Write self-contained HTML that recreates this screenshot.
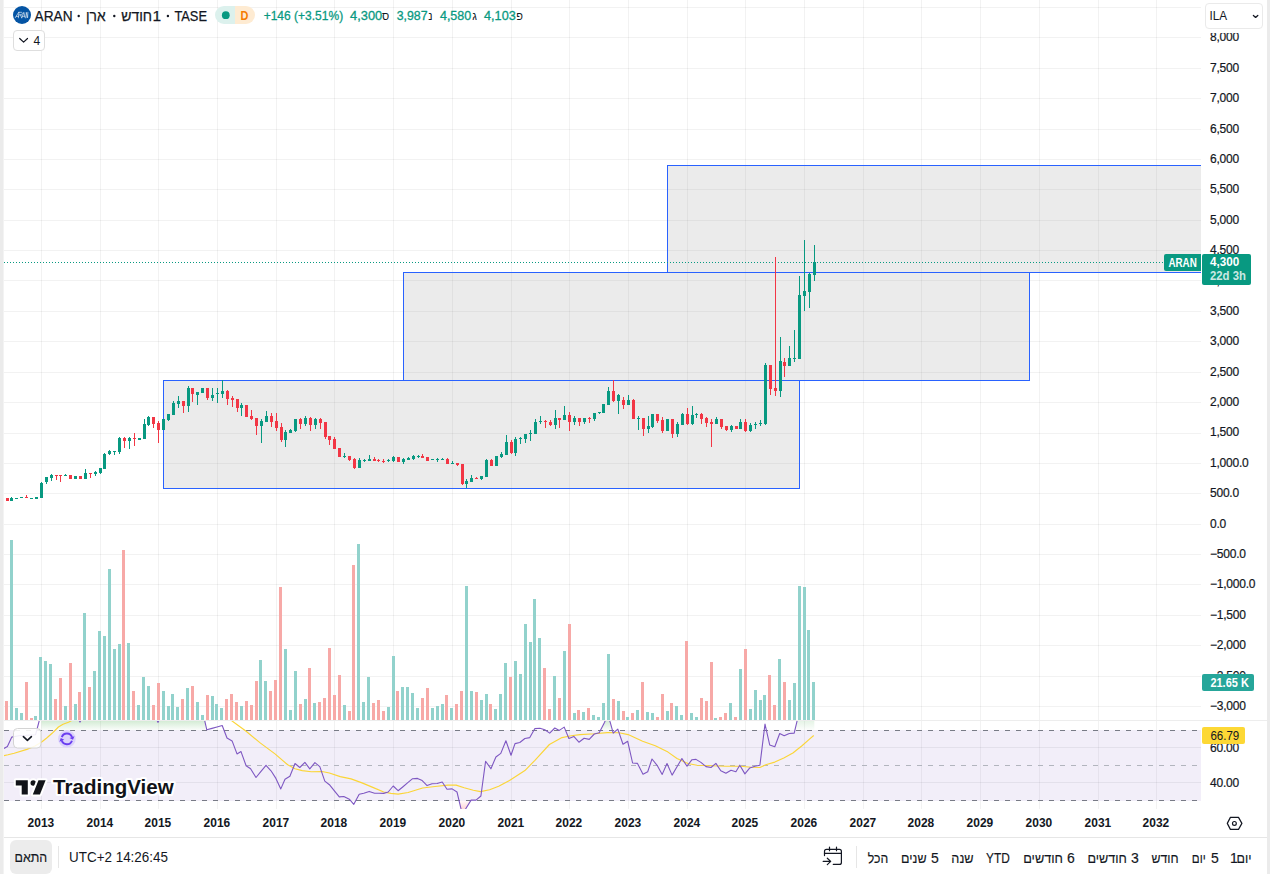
<!DOCTYPE html><html><head><meta charset="utf-8"><title>ARAN chart</title><style>
html,body{margin:0;padding:0;background:#fff}
body{width:1270px;height:874px;position:relative;overflow:hidden;font-family:"Liberation Sans",sans-serif;color:#131722}
svg{position:absolute;left:0;top:0;display:block}
text{font-family:"Liberation Sans",sans-serif}
.ax{font-size:12px;fill:#131722;letter-spacing:-0.22px;stroke:#131722;stroke-width:0.2px}
.yr{font-size:12px;font-weight:bold;fill:#131722;text-anchor:middle}
.tb{font-size:14px;fill:#131722;text-anchor:middle;stroke:#131722;stroke-width:0.15px}
.t16{font-size:15.5px;fill:#131722;stroke:#131722;stroke-width:0.25px}
.h13{font-size:14.25px;fill:#131722;stroke:#131722;stroke-width:0.25px}
.h11{font-size:11px;fill:#131722}
.v13{font-size:13px;fill:#089981;stroke:#089981;stroke-width:0.3px}
.k13{font-size:13px;fill:#131722}
</style></head><body>
<svg width="1270" height="874" viewBox="0 0 1270 874">
<defs>
<clipPath id="cpRsi"><rect x="4" y="721" width="1197" height="88"/></clipPath>
<clipPath id="cpPlot"><rect x="4" y="0" width="1197" height="721"/></clipPath>
<linearGradient id="gOB" x1="0" y1="0" x2="0" y2="1"><stop offset="0" stop-color="#4caf50" stop-opacity="0.24"/><stop offset="1" stop-color="#4caf50" stop-opacity="0.02"/></linearGradient>
<linearGradient id="gOS" x1="0" y1="0" x2="0" y2="1"><stop offset="0" stop-color="#ff5252" stop-opacity="0.02"/><stop offset="1" stop-color="#ff5252" stop-opacity="0.24"/></linearGradient>
</defs>
<rect x="0" y="0" width="1270" height="874" fill="#fff"/>
<g shape-rendering="crispEdges">
<rect x="41" y="0" width="1" height="809" fill="#000" fill-opacity="0.052"/>
<rect x="100" y="0" width="1" height="809" fill="#000" fill-opacity="0.052"/>
<rect x="158" y="0" width="1" height="809" fill="#000" fill-opacity="0.052"/>
<rect x="217" y="0" width="1" height="809" fill="#000" fill-opacity="0.052"/>
<rect x="276" y="0" width="1" height="809" fill="#000" fill-opacity="0.052"/>
<rect x="334" y="0" width="1" height="809" fill="#000" fill-opacity="0.052"/>
<rect x="393" y="0" width="1" height="809" fill="#000" fill-opacity="0.052"/>
<rect x="452" y="0" width="1" height="809" fill="#000" fill-opacity="0.052"/>
<rect x="511" y="0" width="1" height="809" fill="#000" fill-opacity="0.052"/>
<rect x="569" y="0" width="1" height="809" fill="#000" fill-opacity="0.052"/>
<rect x="628" y="0" width="1" height="809" fill="#000" fill-opacity="0.052"/>
<rect x="687" y="0" width="1" height="809" fill="#000" fill-opacity="0.052"/>
<rect x="745" y="0" width="1" height="809" fill="#000" fill-opacity="0.052"/>
<rect x="804" y="0" width="1" height="809" fill="#000" fill-opacity="0.052"/>
<rect x="863" y="0" width="1" height="809" fill="#000" fill-opacity="0.052"/>
<rect x="921" y="0" width="1" height="809" fill="#000" fill-opacity="0.052"/>
<rect x="980" y="0" width="1" height="809" fill="#000" fill-opacity="0.052"/>
<rect x="1039" y="0" width="1" height="809" fill="#000" fill-opacity="0.052"/>
<rect x="1098" y="0" width="1" height="809" fill="#000" fill-opacity="0.052"/>
<rect x="1156" y="0" width="1" height="809" fill="#000" fill-opacity="0.052"/>
<rect x="4" y="706" width="1197" height="1" fill="#000" fill-opacity="0.052"/>
<rect x="4" y="676" width="1197" height="1" fill="#000" fill-opacity="0.052"/>
<rect x="4" y="645" width="1197" height="1" fill="#000" fill-opacity="0.052"/>
<rect x="4" y="615" width="1197" height="1" fill="#000" fill-opacity="0.052"/>
<rect x="4" y="584" width="1197" height="1" fill="#000" fill-opacity="0.052"/>
<rect x="4" y="554" width="1197" height="1" fill="#000" fill-opacity="0.052"/>
<rect x="4" y="524" width="1197" height="1" fill="#000" fill-opacity="0.052"/>
<rect x="4" y="493" width="1197" height="1" fill="#000" fill-opacity="0.052"/>
<rect x="4" y="463" width="1197" height="1" fill="#000" fill-opacity="0.052"/>
<rect x="4" y="433" width="1197" height="1" fill="#000" fill-opacity="0.052"/>
<rect x="4" y="402" width="1197" height="1" fill="#000" fill-opacity="0.052"/>
<rect x="4" y="372" width="1197" height="1" fill="#000" fill-opacity="0.052"/>
<rect x="4" y="341" width="1197" height="1" fill="#000" fill-opacity="0.052"/>
<rect x="4" y="311" width="1197" height="1" fill="#000" fill-opacity="0.052"/>
<rect x="4" y="280" width="1197" height="1" fill="#000" fill-opacity="0.052"/>
<rect x="4" y="250" width="1197" height="1" fill="#000" fill-opacity="0.052"/>
<rect x="4" y="220" width="1197" height="1" fill="#000" fill-opacity="0.052"/>
<rect x="4" y="189" width="1197" height="1" fill="#000" fill-opacity="0.052"/>
<rect x="4" y="159" width="1197" height="1" fill="#000" fill-opacity="0.052"/>
<rect x="4" y="129" width="1197" height="1" fill="#000" fill-opacity="0.052"/>
<rect x="4" y="98" width="1197" height="1" fill="#000" fill-opacity="0.052"/>
<rect x="4" y="68" width="1197" height="1" fill="#000" fill-opacity="0.052"/>
<rect x="4" y="37" width="1197" height="1" fill="#000" fill-opacity="0.052"/>
<rect x="4" y="7" width="1197" height="1" fill="#000" fill-opacity="0.052"/>
<rect x="4" y="730" width="1197" height="71" fill="#7e57c2" fill-opacity="0.1"/>
<rect x="4" y="747" width="1197" height="1" fill="#2a2e39" fill-opacity="0.07"/>
<rect x="4" y="782" width="1197" height="1" fill="#2a2e39" fill-opacity="0.07"/>
<rect x="4" y="720" width="1263" height="1" fill="#ededed"/>
</g>
<g clip-path="url(#cpRsi)">
<polygon fill="url(#gOB)" points="41.4,730.4 41.4,721 205.3,721 205.3,730.4"/>
<polygon fill="url(#gOB)" points="600.4,730.4 604.6,722.2 605,721 609.8,721 610.2,722.2 612.4,730.4"/>
<polygon fill="url(#gOB)" fill-opacity="0.6" points="795.2,730.4 797.4,721 814.3,721 814.3,730.4"/>
<polygon fill="url(#gOS)" points="459,800.5 461,808.8 461.2,809 465.6,809 465.7,808.8 470.9,800.5"/>
</g>
<g shape-rendering="crispEdges" fill="none">
<line x1="4" y1="730.5" x2="1201" y2="730.5" stroke="#787b86" stroke-dasharray="5 6"/>
<line x1="4" y1="765.5" x2="1201" y2="765.5" stroke="#b2b5be" stroke-dasharray="5 6"/>
<line x1="4" y1="800.5" x2="1201" y2="800.5" stroke="#787b86" stroke-dasharray="5 6"/>
</g>
<g clip-path="url(#cpPlot)" shape-rendering="crispEdges">
<rect x="163.5" y="380.5" width="636" height="108" fill="#808080" fill-opacity="0.16" stroke="#2962ff" stroke-width="1"/>
<rect x="403.5" y="272.5" width="626" height="108" fill="#808080" fill-opacity="0.16" stroke="#2962ff" stroke-width="1"/>
<rect x="667.5" y="165.5" width="560" height="107" fill="#808080" fill-opacity="0.16" stroke="#2962ff" stroke-width="1"/>
</g>
<g shape-rendering="crispEdges">
<rect x="5" y="701" width="3" height="19" fill="#f7a9a7"/>
<rect x="10" y="540" width="3" height="180" fill="#92d2cc"/>
<rect x="15" y="708" width="3" height="12" fill="#92d2cc"/>
<rect x="20" y="713" width="3" height="7" fill="#92d2cc"/>
<rect x="25" y="682" width="3" height="38" fill="#f7a9a7"/>
<rect x="30" y="718" width="3" height="2" fill="#f7a9a7"/>
<rect x="34" y="716" width="3" height="4" fill="#92d2cc"/>
<rect x="39" y="657" width="3" height="63" fill="#92d2cc"/>
<rect x="44" y="661" width="3" height="59" fill="#92d2cc"/>
<rect x="49" y="664" width="3" height="56" fill="#92d2cc"/>
<rect x="54" y="699" width="3" height="21" fill="#f7a9a7"/>
<rect x="59" y="678" width="3" height="42" fill="#f7a9a7"/>
<rect x="64" y="706" width="3" height="14" fill="#92d2cc"/>
<rect x="69" y="663" width="3" height="57" fill="#f7a9a7"/>
<rect x="74" y="704" width="3" height="16" fill="#92d2cc"/>
<rect x="78" y="692" width="3" height="28" fill="#f7a9a7"/>
<rect x="83" y="613" width="3" height="107" fill="#92d2cc"/>
<rect x="88" y="687" width="3" height="33" fill="#f7a9a7"/>
<rect x="93" y="671" width="3" height="49" fill="#92d2cc"/>
<rect x="98" y="631" width="3" height="89" fill="#92d2cc"/>
<rect x="103" y="636" width="3" height="84" fill="#92d2cc"/>
<rect x="108" y="569" width="3" height="151" fill="#92d2cc"/>
<rect x="113" y="649" width="3" height="71" fill="#92d2cc"/>
<rect x="118" y="644" width="3" height="76" fill="#92d2cc"/>
<rect x="122" y="550" width="3" height="170" fill="#f7a9a7"/>
<rect x="127" y="643" width="3" height="77" fill="#92d2cc"/>
<rect x="132" y="691" width="3" height="29" fill="#f7a9a7"/>
<rect x="137" y="705" width="3" height="15" fill="#92d2cc"/>
<rect x="142" y="677" width="3" height="43" fill="#92d2cc"/>
<rect x="147" y="686" width="3" height="34" fill="#92d2cc"/>
<rect x="152" y="705" width="3" height="15" fill="#f7a9a7"/>
<rect x="157" y="683" width="3" height="37" fill="#f7a9a7"/>
<rect x="162" y="691" width="3" height="29" fill="#92d2cc"/>
<rect x="167" y="706" width="3" height="14" fill="#92d2cc"/>
<rect x="171" y="694" width="3" height="26" fill="#92d2cc"/>
<rect x="176" y="707" width="3" height="13" fill="#92d2cc"/>
<rect x="181" y="699" width="3" height="21" fill="#f7a9a7"/>
<rect x="186" y="688" width="3" height="32" fill="#92d2cc"/>
<rect x="191" y="686" width="3" height="34" fill="#f7a9a7"/>
<rect x="196" y="702" width="3" height="18" fill="#92d2cc"/>
<rect x="201" y="715" width="3" height="5" fill="#92d2cc"/>
<rect x="206" y="695" width="3" height="25" fill="#f7a9a7"/>
<rect x="211" y="696" width="3" height="24" fill="#92d2cc"/>
<rect x="215" y="704" width="3" height="16" fill="#92d2cc"/>
<rect x="220" y="708" width="3" height="12" fill="#92d2cc"/>
<rect x="225" y="699" width="3" height="21" fill="#f7a9a7"/>
<rect x="230" y="694" width="3" height="26" fill="#f7a9a7"/>
<rect x="235" y="702" width="3" height="18" fill="#f7a9a7"/>
<rect x="240" y="706" width="3" height="14" fill="#92d2cc"/>
<rect x="245" y="701" width="3" height="19" fill="#f7a9a7"/>
<rect x="250" y="705" width="3" height="15" fill="#f7a9a7"/>
<rect x="255" y="681" width="3" height="39" fill="#f7a9a7"/>
<rect x="259" y="660" width="3" height="60" fill="#92d2cc"/>
<rect x="264" y="681" width="3" height="39" fill="#92d2cc"/>
<rect x="269" y="691" width="3" height="29" fill="#f7a9a7"/>
<rect x="274" y="680" width="3" height="40" fill="#f7a9a7"/>
<rect x="279" y="587" width="3" height="133" fill="#f7a9a7"/>
<rect x="284" y="649" width="3" height="71" fill="#92d2cc"/>
<rect x="289" y="710" width="3" height="10" fill="#92d2cc"/>
<rect x="294" y="671" width="3" height="49" fill="#92d2cc"/>
<rect x="299" y="704" width="3" height="16" fill="#f7a9a7"/>
<rect x="304" y="699" width="3" height="21" fill="#92d2cc"/>
<rect x="308" y="668" width="3" height="52" fill="#f7a9a7"/>
<rect x="313" y="703" width="3" height="17" fill="#92d2cc"/>
<rect x="318" y="702" width="3" height="18" fill="#f7a9a7"/>
<rect x="323" y="698" width="3" height="22" fill="#f7a9a7"/>
<rect x="328" y="648" width="3" height="72" fill="#f7a9a7"/>
<rect x="333" y="695" width="3" height="25" fill="#f7a9a7"/>
<rect x="338" y="675" width="3" height="45" fill="#f7a9a7"/>
<rect x="343" y="705" width="3" height="15" fill="#92d2cc"/>
<rect x="348" y="711" width="3" height="9" fill="#f7a9a7"/>
<rect x="352" y="565" width="3" height="155" fill="#f7a9a7"/>
<rect x="357" y="544" width="3" height="176" fill="#92d2cc"/>
<rect x="362" y="702" width="3" height="18" fill="#92d2cc"/>
<rect x="367" y="677" width="3" height="43" fill="#92d2cc"/>
<rect x="372" y="703" width="3" height="17" fill="#f7a9a7"/>
<rect x="377" y="700" width="3" height="20" fill="#f7a9a7"/>
<rect x="382" y="711" width="3" height="9" fill="#f7a9a7"/>
<rect x="387" y="707" width="3" height="13" fill="#92d2cc"/>
<rect x="392" y="656" width="3" height="64" fill="#92d2cc"/>
<rect x="396" y="691" width="3" height="29" fill="#f7a9a7"/>
<rect x="401" y="687" width="3" height="33" fill="#92d2cc"/>
<rect x="406" y="687" width="3" height="33" fill="#92d2cc"/>
<rect x="411" y="693" width="3" height="27" fill="#92d2cc"/>
<rect x="416" y="708" width="3" height="12" fill="#92d2cc"/>
<rect x="421" y="698" width="3" height="22" fill="#f7a9a7"/>
<rect x="426" y="688" width="3" height="32" fill="#f7a9a7"/>
<rect x="431" y="708" width="3" height="12" fill="#92d2cc"/>
<rect x="436" y="706" width="3" height="14" fill="#92d2cc"/>
<rect x="441" y="704" width="3" height="16" fill="#92d2cc"/>
<rect x="445" y="695" width="3" height="25" fill="#f7a9a7"/>
<rect x="450" y="708" width="3" height="12" fill="#92d2cc"/>
<rect x="455" y="704" width="3" height="16" fill="#f7a9a7"/>
<rect x="460" y="691" width="3" height="29" fill="#f7a9a7"/>
<rect x="465" y="586" width="3" height="134" fill="#92d2cc"/>
<rect x="470" y="691" width="3" height="29" fill="#92d2cc"/>
<rect x="475" y="692" width="3" height="28" fill="#f7a9a7"/>
<rect x="480" y="700" width="3" height="20" fill="#92d2cc"/>
<rect x="485" y="694" width="3" height="26" fill="#92d2cc"/>
<rect x="489" y="704" width="3" height="16" fill="#f7a9a7"/>
<rect x="494" y="709" width="3" height="11" fill="#92d2cc"/>
<rect x="499" y="694" width="3" height="26" fill="#92d2cc"/>
<rect x="504" y="663" width="3" height="57" fill="#92d2cc"/>
<rect x="509" y="677" width="3" height="43" fill="#f7a9a7"/>
<rect x="514" y="661" width="3" height="59" fill="#92d2cc"/>
<rect x="519" y="674" width="3" height="46" fill="#92d2cc"/>
<rect x="524" y="624" width="3" height="96" fill="#92d2cc"/>
<rect x="529" y="642" width="3" height="78" fill="#92d2cc"/>
<rect x="533" y="599" width="3" height="121" fill="#92d2cc"/>
<rect x="538" y="638" width="3" height="82" fill="#92d2cc"/>
<rect x="543" y="668" width="3" height="52" fill="#f7a9a7"/>
<rect x="548" y="709" width="3" height="11" fill="#f7a9a7"/>
<rect x="553" y="676" width="3" height="44" fill="#92d2cc"/>
<rect x="558" y="698" width="3" height="22" fill="#f7a9a7"/>
<rect x="563" y="651" width="3" height="69" fill="#92d2cc"/>
<rect x="568" y="624" width="3" height="96" fill="#f7a9a7"/>
<rect x="573" y="713" width="3" height="7" fill="#92d2cc"/>
<rect x="577" y="710" width="3" height="10" fill="#f7a9a7"/>
<rect x="582" y="712" width="3" height="8" fill="#92d2cc"/>
<rect x="587" y="708" width="3" height="12" fill="#f7a9a7"/>
<rect x="592" y="715" width="3" height="5" fill="#92d2cc"/>
<rect x="597" y="717" width="3" height="3" fill="#92d2cc"/>
<rect x="602" y="703" width="3" height="17" fill="#92d2cc"/>
<rect x="607" y="654" width="3" height="66" fill="#92d2cc"/>
<rect x="612" y="699" width="3" height="21" fill="#f7a9a7"/>
<rect x="617" y="701" width="3" height="19" fill="#92d2cc"/>
<rect x="622" y="711" width="3" height="9" fill="#f7a9a7"/>
<rect x="626" y="717" width="3" height="3" fill="#92d2cc"/>
<rect x="631" y="713" width="3" height="7" fill="#f7a9a7"/>
<rect x="636" y="710" width="3" height="10" fill="#92d2cc"/>
<rect x="641" y="682" width="3" height="38" fill="#f7a9a7"/>
<rect x="646" y="712" width="3" height="8" fill="#92d2cc"/>
<rect x="651" y="713" width="3" height="7" fill="#92d2cc"/>
<rect x="656" y="717" width="3" height="3" fill="#f7a9a7"/>
<rect x="661" y="694" width="3" height="26" fill="#f7a9a7"/>
<rect x="666" y="711" width="3" height="9" fill="#92d2cc"/>
<rect x="670" y="703" width="3" height="17" fill="#f7a9a7"/>
<rect x="675" y="706" width="3" height="14" fill="#92d2cc"/>
<rect x="680" y="715" width="3" height="5" fill="#92d2cc"/>
<rect x="685" y="641" width="3" height="79" fill="#f7a9a7"/>
<rect x="690" y="713" width="3" height="7" fill="#92d2cc"/>
<rect x="695" y="717" width="3" height="3" fill="#92d2cc"/>
<rect x="700" y="698" width="3" height="22" fill="#f7a9a7"/>
<rect x="705" y="701" width="3" height="19" fill="#f7a9a7"/>
<rect x="710" y="662" width="3" height="58" fill="#f7a9a7"/>
<rect x="714" y="718" width="3" height="2" fill="#92d2cc"/>
<rect x="719" y="717" width="3" height="3" fill="#f7a9a7"/>
<rect x="724" y="713" width="3" height="7" fill="#f7a9a7"/>
<rect x="729" y="703" width="3" height="17" fill="#92d2cc"/>
<rect x="734" y="717" width="3" height="3" fill="#f7a9a7"/>
<rect x="739" y="669" width="3" height="51" fill="#92d2cc"/>
<rect x="744" y="649" width="3" height="71" fill="#f7a9a7"/>
<rect x="749" y="709" width="3" height="11" fill="#92d2cc"/>
<rect x="754" y="690" width="3" height="30" fill="#92d2cc"/>
<rect x="759" y="700" width="3" height="20" fill="#92d2cc"/>
<rect x="763" y="695" width="3" height="25" fill="#92d2cc"/>
<rect x="768" y="675" width="3" height="45" fill="#f7a9a7"/>
<rect x="773" y="705" width="3" height="15" fill="#f7a9a7"/>
<rect x="778" y="659" width="3" height="61" fill="#92d2cc"/>
<rect x="783" y="682" width="3" height="38" fill="#f7a9a7"/>
<rect x="788" y="700" width="3" height="20" fill="#92d2cc"/>
<rect x="793" y="683" width="3" height="37" fill="#92d2cc"/>
<rect x="798" y="586" width="3" height="134" fill="#92d2cc"/>
<rect x="803" y="587" width="3" height="133" fill="#92d2cc"/>
<rect x="807" y="630" width="3" height="90" fill="#92d2cc"/>
<rect x="812" y="682" width="3" height="38" fill="#92d2cc"/>
</g>
<g shape-rendering="crispEdges">
<line x1="4" y1="262.5" x2="1164" y2="262.5" stroke="#089981" stroke-dasharray="1 2" stroke-dashoffset="0"/>
<rect x="6" y="498" width="3" height="3" fill="#f23645"/>
<rect x="11" y="497" width="1" height="4" fill="#089981"/>
<rect x="10" y="498" width="3" height="3" fill="#089981"/>
<rect x="15" y="498" width="3" height="1" fill="#089981"/>
<rect x="20" y="497" width="3" height="1" fill="#089981"/>
<rect x="26" y="495" width="1" height="3" fill="#f23645"/>
<rect x="25" y="497" width="3" height="1" fill="#f23645"/>
<rect x="30" y="498" width="3" height="1" fill="#089981"/>
<rect x="35" y="497" width="3" height="2" fill="#089981"/>
<rect x="41" y="482" width="1" height="16" fill="#089981"/>
<rect x="40" y="483" width="3" height="15" fill="#089981"/>
<rect x="46" y="477" width="1" height="7" fill="#089981"/>
<rect x="45" y="477" width="3" height="5" fill="#089981"/>
<rect x="51" y="474" width="1" height="7" fill="#089981"/>
<rect x="50" y="475" width="3" height="3" fill="#089981"/>
<rect x="56" y="475" width="1" height="5" fill="#f23645"/>
<rect x="55" y="475" width="3" height="1" fill="#f23645"/>
<rect x="60" y="475" width="1" height="7" fill="#f23645"/>
<rect x="59" y="475" width="3" height="1" fill="#f23645"/>
<rect x="65" y="474" width="1" height="2" fill="#089981"/>
<rect x="64" y="475" width="3" height="1" fill="#089981"/>
<rect x="69" y="475" width="3" height="4" fill="#f23645"/>
<rect x="74" y="476" width="3" height="3" fill="#089981"/>
<rect x="79" y="476" width="3" height="3" fill="#f23645"/>
<rect x="85" y="469" width="1" height="10" fill="#089981"/>
<rect x="84" y="473" width="3" height="6" fill="#089981"/>
<rect x="90" y="473" width="1" height="5" fill="#f23645"/>
<rect x="89" y="473" width="3" height="1" fill="#f23645"/>
<rect x="95" y="471" width="1" height="5" fill="#089981"/>
<rect x="94" y="472" width="3" height="2" fill="#089981"/>
<rect x="100" y="468" width="1" height="6" fill="#089981"/>
<rect x="99" y="468" width="3" height="5" fill="#089981"/>
<rect x="104" y="453" width="1" height="16" fill="#089981"/>
<rect x="103" y="454" width="3" height="15" fill="#089981"/>
<rect x="109" y="450" width="1" height="5" fill="#089981"/>
<rect x="108" y="451" width="3" height="3" fill="#089981"/>
<rect x="114" y="451" width="1" height="4" fill="#089981"/>
<rect x="113" y="451" width="3" height="1" fill="#089981"/>
<rect x="119" y="437" width="1" height="17" fill="#089981"/>
<rect x="118" y="438" width="3" height="14" fill="#089981"/>
<rect x="124" y="437" width="1" height="11" fill="#f23645"/>
<rect x="123" y="438" width="3" height="3" fill="#f23645"/>
<rect x="129" y="437" width="1" height="12" fill="#089981"/>
<rect x="128" y="438" width="3" height="3" fill="#089981"/>
<rect x="134" y="433" width="1" height="13" fill="#f23645"/>
<rect x="133" y="438" width="3" height="1" fill="#f23645"/>
<rect x="138" y="438" width="3" height="2" fill="#089981"/>
<rect x="144" y="419" width="1" height="20" fill="#089981"/>
<rect x="143" y="424" width="3" height="15" fill="#089981"/>
<rect x="148" y="416" width="1" height="10" fill="#089981"/>
<rect x="147" y="417" width="3" height="8" fill="#089981"/>
<rect x="153" y="417" width="1" height="11" fill="#f23645"/>
<rect x="152" y="417" width="3" height="7" fill="#f23645"/>
<rect x="158" y="421" width="1" height="22" fill="#f23645"/>
<rect x="157" y="423" width="3" height="7" fill="#f23645"/>
<rect x="162" y="419" width="3" height="11" fill="#089981"/>
<rect x="168" y="414" width="1" height="7" fill="#089981"/>
<rect x="167" y="414" width="3" height="6" fill="#089981"/>
<rect x="173" y="401" width="1" height="14" fill="#089981"/>
<rect x="172" y="403" width="3" height="12" fill="#089981"/>
<rect x="178" y="396" width="1" height="12" fill="#089981"/>
<rect x="177" y="401" width="3" height="3" fill="#089981"/>
<rect x="183" y="401" width="1" height="12" fill="#f23645"/>
<rect x="182" y="401" width="3" height="5" fill="#f23645"/>
<rect x="188" y="386" width="1" height="26" fill="#089981"/>
<rect x="187" y="388" width="3" height="18" fill="#089981"/>
<rect x="192" y="388" width="1" height="14" fill="#f23645"/>
<rect x="191" y="388" width="3" height="6" fill="#f23645"/>
<rect x="197" y="392" width="1" height="13" fill="#089981"/>
<rect x="196" y="392" width="3" height="3" fill="#089981"/>
<rect x="201" y="388" width="3" height="5" fill="#089981"/>
<rect x="207" y="388" width="1" height="12" fill="#f23645"/>
<rect x="206" y="388" width="3" height="10" fill="#f23645"/>
<rect x="212" y="388" width="1" height="13" fill="#089981"/>
<rect x="211" y="395" width="3" height="3" fill="#089981"/>
<rect x="217" y="388" width="1" height="15" fill="#089981"/>
<rect x="216" y="393" width="3" height="1" fill="#089981"/>
<rect x="222" y="380" width="1" height="18" fill="#089981"/>
<rect x="221" y="391" width="3" height="3" fill="#089981"/>
<rect x="227" y="390" width="1" height="15" fill="#f23645"/>
<rect x="226" y="391" width="3" height="8" fill="#f23645"/>
<rect x="232" y="396" width="1" height="11" fill="#f23645"/>
<rect x="231" y="398" width="3" height="2" fill="#f23645"/>
<rect x="237" y="399" width="1" height="13" fill="#f23645"/>
<rect x="236" y="399" width="3" height="9" fill="#f23645"/>
<rect x="241" y="403" width="1" height="13" fill="#089981"/>
<rect x="240" y="405" width="3" height="3" fill="#089981"/>
<rect x="245" y="405" width="3" height="12" fill="#f23645"/>
<rect x="251" y="410" width="1" height="10" fill="#f23645"/>
<rect x="250" y="416" width="3" height="3" fill="#f23645"/>
<rect x="256" y="418" width="1" height="17" fill="#f23645"/>
<rect x="255" y="418" width="3" height="8" fill="#f23645"/>
<rect x="261" y="419" width="1" height="24" fill="#089981"/>
<rect x="260" y="421" width="3" height="5" fill="#089981"/>
<rect x="266" y="411" width="1" height="11" fill="#089981"/>
<rect x="265" y="416" width="3" height="6" fill="#089981"/>
<rect x="271" y="413" width="1" height="14" fill="#f23645"/>
<rect x="270" y="416" width="3" height="6" fill="#f23645"/>
<rect x="276" y="413" width="1" height="18" fill="#f23645"/>
<rect x="275" y="421" width="3" height="7" fill="#f23645"/>
<rect x="281" y="423" width="1" height="19" fill="#f23645"/>
<rect x="280" y="427" width="3" height="13" fill="#f23645"/>
<rect x="285" y="430" width="1" height="17" fill="#089981"/>
<rect x="284" y="432" width="3" height="8" fill="#089981"/>
<rect x="290" y="429" width="1" height="4" fill="#089981"/>
<rect x="289" y="430" width="3" height="3" fill="#089981"/>
<rect x="295" y="419" width="1" height="13" fill="#089981"/>
<rect x="294" y="419" width="3" height="12" fill="#089981"/>
<rect x="300" y="418" width="1" height="11" fill="#f23645"/>
<rect x="299" y="419" width="3" height="5" fill="#f23645"/>
<rect x="305" y="416" width="1" height="10" fill="#089981"/>
<rect x="304" y="418" width="3" height="6" fill="#089981"/>
<rect x="310" y="417" width="1" height="14" fill="#f23645"/>
<rect x="309" y="418" width="3" height="7" fill="#f23645"/>
<rect x="315" y="418" width="1" height="11" fill="#089981"/>
<rect x="314" y="419" width="3" height="6" fill="#089981"/>
<rect x="320" y="418" width="1" height="11" fill="#f23645"/>
<rect x="319" y="419" width="3" height="4" fill="#f23645"/>
<rect x="325" y="422" width="1" height="17" fill="#f23645"/>
<rect x="324" y="422" width="3" height="15" fill="#f23645"/>
<rect x="329" y="436" width="1" height="9" fill="#f23645"/>
<rect x="328" y="436" width="3" height="4" fill="#f23645"/>
<rect x="334" y="437" width="1" height="12" fill="#f23645"/>
<rect x="333" y="439" width="3" height="10" fill="#f23645"/>
<rect x="338" y="448" width="3" height="9" fill="#f23645"/>
<rect x="344" y="453" width="1" height="5" fill="#089981"/>
<rect x="343" y="456" width="3" height="1" fill="#089981"/>
<rect x="349" y="456" width="1" height="5" fill="#f23645"/>
<rect x="348" y="456" width="3" height="4" fill="#f23645"/>
<rect x="354" y="458" width="1" height="11" fill="#f23645"/>
<rect x="353" y="459" width="3" height="9" fill="#f23645"/>
<rect x="359" y="458" width="1" height="10" fill="#089981"/>
<rect x="358" y="460" width="3" height="8" fill="#089981"/>
<rect x="364" y="459" width="1" height="3" fill="#089981"/>
<rect x="363" y="460" width="3" height="1" fill="#089981"/>
<rect x="369" y="455" width="1" height="6" fill="#089981"/>
<rect x="368" y="459" width="3" height="2" fill="#089981"/>
<rect x="374" y="457" width="1" height="4" fill="#f23645"/>
<rect x="373" y="459" width="3" height="2" fill="#f23645"/>
<rect x="378" y="459" width="1" height="3" fill="#f23645"/>
<rect x="377" y="460" width="3" height="1" fill="#f23645"/>
<rect x="383" y="459" width="1" height="4" fill="#f23645"/>
<rect x="382" y="461" width="3" height="1" fill="#f23645"/>
<rect x="388" y="459" width="1" height="3" fill="#089981"/>
<rect x="387" y="460" width="3" height="1" fill="#089981"/>
<rect x="393" y="456" width="1" height="6" fill="#089981"/>
<rect x="392" y="457" width="3" height="4" fill="#089981"/>
<rect x="397" y="457" width="3" height="5" fill="#f23645"/>
<rect x="403" y="458" width="1" height="6" fill="#089981"/>
<rect x="402" y="459" width="3" height="3" fill="#089981"/>
<rect x="408" y="457" width="1" height="3" fill="#089981"/>
<rect x="407" y="458" width="3" height="2" fill="#089981"/>
<rect x="413" y="455" width="1" height="5" fill="#089981"/>
<rect x="412" y="456" width="3" height="3" fill="#089981"/>
<rect x="418" y="455" width="1" height="3" fill="#089981"/>
<rect x="417" y="456" width="3" height="1" fill="#089981"/>
<rect x="422" y="454" width="1" height="4" fill="#f23645"/>
<rect x="421" y="456" width="3" height="2" fill="#f23645"/>
<rect x="426" y="457" width="3" height="4" fill="#f23645"/>
<rect x="431" y="459" width="3" height="1" fill="#089981"/>
<rect x="437" y="458" width="1" height="4" fill="#089981"/>
<rect x="436" y="459" width="3" height="1" fill="#089981"/>
<rect x="442" y="458" width="1" height="2" fill="#089981"/>
<rect x="441" y="459" width="3" height="1" fill="#089981"/>
<rect x="447" y="458" width="1" height="6" fill="#f23645"/>
<rect x="446" y="459" width="3" height="5" fill="#f23645"/>
<rect x="452" y="461" width="1" height="3" fill="#089981"/>
<rect x="451" y="463" width="3" height="1" fill="#089981"/>
<rect x="457" y="463" width="1" height="3" fill="#f23645"/>
<rect x="456" y="463" width="3" height="2" fill="#f23645"/>
<rect x="462" y="464" width="1" height="21" fill="#f23645"/>
<rect x="461" y="464" width="3" height="20" fill="#f23645"/>
<rect x="466" y="479" width="1" height="9" fill="#089981"/>
<rect x="465" y="481" width="3" height="3" fill="#089981"/>
<rect x="471" y="475" width="1" height="7" fill="#089981"/>
<rect x="470" y="478" width="3" height="4" fill="#089981"/>
<rect x="476" y="477" width="1" height="2" fill="#f23645"/>
<rect x="475" y="478" width="3" height="1" fill="#f23645"/>
<rect x="481" y="476" width="1" height="4" fill="#089981"/>
<rect x="480" y="476" width="3" height="3" fill="#089981"/>
<rect x="486" y="459" width="1" height="18" fill="#089981"/>
<rect x="485" y="460" width="3" height="17" fill="#089981"/>
<rect x="491" y="459" width="1" height="7" fill="#f23645"/>
<rect x="490" y="460" width="3" height="6" fill="#f23645"/>
<rect x="495" y="456" width="3" height="10" fill="#089981"/>
<rect x="501" y="452" width="1" height="6" fill="#089981"/>
<rect x="500" y="454" width="3" height="3" fill="#089981"/>
<rect x="506" y="435" width="1" height="20" fill="#089981"/>
<rect x="505" y="442" width="3" height="13" fill="#089981"/>
<rect x="511" y="440" width="1" height="14" fill="#f23645"/>
<rect x="510" y="442" width="3" height="11" fill="#f23645"/>
<rect x="515" y="437" width="1" height="19" fill="#089981"/>
<rect x="514" y="439" width="3" height="14" fill="#089981"/>
<rect x="520" y="437" width="1" height="7" fill="#089981"/>
<rect x="519" y="438" width="3" height="1" fill="#089981"/>
<rect x="525" y="434" width="1" height="9" fill="#089981"/>
<rect x="524" y="434" width="3" height="5" fill="#089981"/>
<rect x="530" y="430" width="1" height="11" fill="#089981"/>
<rect x="529" y="433" width="3" height="1" fill="#089981"/>
<rect x="535" y="419" width="1" height="15" fill="#089981"/>
<rect x="534" y="422" width="3" height="12" fill="#089981"/>
<rect x="540" y="416" width="1" height="8" fill="#089981"/>
<rect x="539" y="421" width="3" height="1" fill="#089981"/>
<rect x="545" y="420" width="1" height="8" fill="#f23645"/>
<rect x="544" y="421" width="3" height="1" fill="#f23645"/>
<rect x="550" y="420" width="1" height="6" fill="#f23645"/>
<rect x="549" y="422" width="3" height="3" fill="#f23645"/>
<rect x="555" y="410" width="1" height="19" fill="#089981"/>
<rect x="554" y="418" width="3" height="7" fill="#089981"/>
<rect x="559" y="418" width="1" height="10" fill="#f23645"/>
<rect x="558" y="418" width="3" height="2" fill="#f23645"/>
<rect x="564" y="406" width="1" height="14" fill="#089981"/>
<rect x="563" y="415" width="3" height="5" fill="#089981"/>
<rect x="569" y="412" width="1" height="19" fill="#f23645"/>
<rect x="568" y="415" width="3" height="7" fill="#f23645"/>
<rect x="574" y="416" width="1" height="9" fill="#089981"/>
<rect x="573" y="418" width="3" height="4" fill="#089981"/>
<rect x="579" y="418" width="1" height="8" fill="#f23645"/>
<rect x="578" y="418" width="3" height="4" fill="#f23645"/>
<rect x="584" y="418" width="1" height="6" fill="#089981"/>
<rect x="583" y="418" width="3" height="4" fill="#089981"/>
<rect x="589" y="417" width="1" height="6" fill="#f23645"/>
<rect x="588" y="418" width="3" height="1" fill="#f23645"/>
<rect x="594" y="413" width="1" height="8" fill="#089981"/>
<rect x="593" y="413" width="3" height="6" fill="#089981"/>
<rect x="599" y="412" width="1" height="2" fill="#089981"/>
<rect x="598" y="412" width="3" height="1" fill="#089981"/>
<rect x="602" y="404" width="3" height="9" fill="#089981"/>
<rect x="608" y="387" width="1" height="18" fill="#089981"/>
<rect x="607" y="391" width="3" height="14" fill="#089981"/>
<rect x="613" y="380" width="1" height="22" fill="#f23645"/>
<rect x="612" y="391" width="3" height="10" fill="#f23645"/>
<rect x="618" y="394" width="1" height="20" fill="#089981"/>
<rect x="617" y="395" width="3" height="6" fill="#089981"/>
<rect x="623" y="397" width="1" height="12" fill="#f23645"/>
<rect x="622" y="400" width="3" height="5" fill="#f23645"/>
<rect x="628" y="395" width="1" height="10" fill="#089981"/>
<rect x="627" y="400" width="3" height="5" fill="#089981"/>
<rect x="633" y="399" width="1" height="20" fill="#f23645"/>
<rect x="632" y="400" width="3" height="19" fill="#f23645"/>
<rect x="638" y="416" width="1" height="14" fill="#089981"/>
<rect x="637" y="418" width="3" height="1" fill="#089981"/>
<rect x="643" y="418" width="1" height="18" fill="#f23645"/>
<rect x="642" y="418" width="3" height="11" fill="#f23645"/>
<rect x="648" y="416" width="1" height="17" fill="#089981"/>
<rect x="647" y="426" width="3" height="3" fill="#089981"/>
<rect x="652" y="414" width="1" height="14" fill="#089981"/>
<rect x="651" y="414" width="3" height="13" fill="#089981"/>
<rect x="657" y="414" width="1" height="9" fill="#f23645"/>
<rect x="656" y="414" width="3" height="7" fill="#f23645"/>
<rect x="662" y="417" width="1" height="16" fill="#f23645"/>
<rect x="661" y="420" width="3" height="11" fill="#f23645"/>
<rect x="666" y="419" width="3" height="12" fill="#089981"/>
<rect x="672" y="419" width="1" height="19" fill="#f23645"/>
<rect x="671" y="419" width="3" height="15" fill="#f23645"/>
<rect x="677" y="422" width="1" height="15" fill="#089981"/>
<rect x="676" y="424" width="3" height="10" fill="#089981"/>
<rect x="682" y="413" width="1" height="12" fill="#089981"/>
<rect x="681" y="414" width="3" height="11" fill="#089981"/>
<rect x="687" y="408" width="1" height="17" fill="#f23645"/>
<rect x="686" y="414" width="3" height="10" fill="#f23645"/>
<rect x="692" y="406" width="1" height="19" fill="#089981"/>
<rect x="691" y="415" width="3" height="9" fill="#089981"/>
<rect x="696" y="413" width="1" height="5" fill="#089981"/>
<rect x="695" y="414" width="3" height="1" fill="#089981"/>
<rect x="701" y="413" width="1" height="11" fill="#f23645"/>
<rect x="700" y="414" width="3" height="5" fill="#f23645"/>
<rect x="706" y="417" width="1" height="10" fill="#f23645"/>
<rect x="705" y="418" width="3" height="5" fill="#f23645"/>
<rect x="711" y="419" width="1" height="28" fill="#f23645"/>
<rect x="710" y="422" width="3" height="2" fill="#f23645"/>
<rect x="716" y="417" width="1" height="7" fill="#089981"/>
<rect x="715" y="419" width="3" height="5" fill="#089981"/>
<rect x="721" y="419" width="1" height="10" fill="#f23645"/>
<rect x="720" y="419" width="3" height="8" fill="#f23645"/>
<rect x="726" y="426" width="1" height="5" fill="#f23645"/>
<rect x="725" y="426" width="3" height="4" fill="#f23645"/>
<rect x="731" y="425" width="1" height="7" fill="#089981"/>
<rect x="730" y="426" width="3" height="4" fill="#089981"/>
<rect x="735" y="426" width="3" height="3" fill="#f23645"/>
<rect x="740" y="419" width="1" height="10" fill="#089981"/>
<rect x="739" y="422" width="3" height="7" fill="#089981"/>
<rect x="745" y="419" width="1" height="13" fill="#f23645"/>
<rect x="744" y="422" width="3" height="9" fill="#f23645"/>
<rect x="750" y="423" width="1" height="9" fill="#089981"/>
<rect x="749" y="425" width="3" height="6" fill="#089981"/>
<rect x="755" y="422" width="1" height="7" fill="#089981"/>
<rect x="754" y="424" width="3" height="1" fill="#089981"/>
<rect x="760" y="420" width="1" height="6" fill="#089981"/>
<rect x="759" y="423" width="3" height="1" fill="#089981"/>
<rect x="765" y="363" width="1" height="62" fill="#089981"/>
<rect x="764" y="365" width="3" height="59" fill="#089981"/>
<rect x="770" y="365" width="1" height="30" fill="#f23645"/>
<rect x="769" y="365" width="3" height="24" fill="#f23645"/>
<rect x="775" y="257" width="1" height="139" fill="#f23645"/>
<rect x="774" y="388" width="3" height="3" fill="#f23645"/>
<rect x="780" y="337" width="1" height="60" fill="#089981"/>
<rect x="779" y="361" width="3" height="30" fill="#089981"/>
<rect x="784" y="358" width="1" height="19" fill="#f23645"/>
<rect x="783" y="362" width="3" height="4" fill="#f23645"/>
<rect x="789" y="346" width="1" height="20" fill="#089981"/>
<rect x="788" y="358" width="3" height="8" fill="#089981"/>
<rect x="794" y="330" width="1" height="32" fill="#089981"/>
<rect x="793" y="358" width="3" height="1" fill="#089981"/>
<rect x="799" y="276" width="1" height="83" fill="#089981"/>
<rect x="798" y="295" width="3" height="64" fill="#089981"/>
<rect x="804" y="240" width="1" height="71" fill="#089981"/>
<rect x="803" y="291" width="3" height="5" fill="#089981"/>
<rect x="809" y="273" width="1" height="35" fill="#089981"/>
<rect x="808" y="274" width="3" height="18" fill="#089981"/>
<rect x="814" y="245" width="1" height="36" fill="#089981"/>
<rect x="813" y="262" width="3" height="13" fill="#089981"/>
</g>
<g clip-path="url(#cpRsi)" fill="none" stroke-linejoin="round">
<polyline stroke="#fbd537" stroke-width="1.15" points="4,755.6 8,754.8 14.2,753.2 26.9,749.4 35,746 42,741.8 47,737.8 52.1,733.3 58.4,727 63,724.3 68.5,722.3 76,718"/>
<polyline stroke="#fbd537" stroke-width="1.15" points="224,715 232.5,721.3 246.1,731.3 260.5,743.1 275,753.9 287.7,764.8 295,768.8 302.2,770.6 311.3,771.7 322.1,771.5 329.4,773 340.2,776.6 351.1,778.9 362,782.9 372.8,787.4 383.7,792 390.9,793.4 398.1,794.1 408.1,792.5 422.6,788 437.1,786.2 447.9,785.1 456.1,785.1 464.2,787.8 473.3,790.2 480.5,791.6 489.6,789.8 498.7,786.2 509.5,780.6 524.9,770.6 534.9,760.3 549.4,744.5 562,737.6 571.1,735.8 580.1,734.6 594.6,733.7 607.3,732.6 619.1,732.7 628.1,734.6 642.6,741.3 655.3,745.8 668,752.1 677,758.5 687.9,763.5 696.9,765.3 711.4,765.7 725.9,766.2 740.4,766.2 751.3,767.2 759.9,767.5 765.7,764.8 774.8,762.1 783.8,757.9 792.9,753 802,745.8 809.2,739.4 813.7,735.5"/>
<polyline stroke="#7e57c2" stroke-width="1.1" points="4,748.5 7.4,746.5 11.8,737.1 16,736.2 20.6,735.5 26,735.3 31,735.0 35.6,734.7 38.9,722 40.2,716.9"/>
<polyline stroke="#7e57c2" stroke-width="1.1" points="203.4,715 206.8,729.8 212,728.4 217,727 222.2,725.5 227,738 232.1,740.9 237,753.9 241,751.6 246.1,765.7 250.6,768.8 256,777.5 261,771.4 266,765.3 271,770.8 275.9,778.4 280.8,788.9 285,779.3 289.9,776.2 295,763.5 299.8,767.5 304.9,762.4 309.8,768.8 314.9,762.6 319.8,766.6 324.8,781.1 329.4,784.7 334.4,790.8 339.3,796.9 343.8,796.5 349.3,799.2 353.8,804.3 359.2,794.3 363.8,793.2 369.2,791.4 374.6,793.2 379,793.3 383.7,793.4 388.2,792 393.2,786 398.1,790.7 403,786.7 407.8,782.7 412.6,778.7 417.5,778.4 422.2,780.6 427.1,785.6 432,783.8 437.1,783.5 442.2,782 447,789.2 452.1,788.9 457,792 461,808.8 463,815 465.7,808.8 471.1,800.1 476,800.1 480.9,796 485.6,761.2 490.9,768.8 495.9,757 500.8,753.4 505.9,740.7 511,755.2 515,743.6 519.8,742.5 524.9,738.5 529.8,737.6 534.9,728.6 539.9,728.2 544.8,729.8 549.7,733.1 554.8,728 559.3,730.4 564.2,727.1 568.9,738.5 573.8,736.4 578.9,742.2 584.1,738.2 589.2,739.4 594.3,734 599.2,732.7 604.6,722.2 607.5,715 610.2,722.2 613.2,733.1 617.8,729.1 623,744.3 627.7,741.3 632.6,763 637.5,763.4 643,774.2 647.7,771.7 652,759 657.1,765.3 662.2,774.4 667,763.5 672.1,775.1 677,766.8 681.9,758.5 687,766.2 692,759.7 696,759.4 700.9,762.4 706,766.6 711,767.5 715.9,763.4 720.8,770.8 725.9,773.3 731,770.2 735.9,771.7 739.8,765.2 744.9,773.9 749.8,767.9 754.9,766.2 759.9,765.3 765,724.1 769.7,744.9 774.8,746.7 779.7,733.5 784.2,735.8 789.3,733.5 794.2,733.1 799.2,712 804,713 809,714 814.3,716"/>
<polyline stroke="#7e57c2" stroke-width="1.2" points="78.5,719 80,722 81.5,719"/>
<polyline stroke="#7e57c2" stroke-width="1.2" points="156.5,719 158,722.3 159.5,719"/>
</g>
<text class="ax" x="1210" y="41.4">8,000</text>
<text class="ax" x="1210" y="71.8">7,500</text>
<text class="ax" x="1210" y="102.2">7,000</text>
<text class="ax" x="1210" y="132.6">6,500</text>
<text class="ax" x="1210" y="162.9">6,000</text>
<text class="ax" x="1210" y="193.3">5,500</text>
<text class="ax" x="1210" y="223.7">5,000</text>
<text class="ax" x="1210" y="254.1">4,500</text>
<text class="ax" x="1210" y="284.5">4,000</text>
<text class="ax" x="1210" y="314.9">3,500</text>
<text class="ax" x="1210" y="345.3">3,000</text>
<text class="ax" x="1210" y="375.6">2,500</text>
<text class="ax" x="1210" y="406.0">2,000</text>
<text class="ax" x="1210" y="436.4">1,500</text>
<text class="ax" x="1210" y="466.8">1,000.0</text>
<text class="ax" x="1210" y="497.2">500.0</text>
<text class="ax" x="1210" y="527.6">0.0</text>
<text class="ax" x="1210" y="558.0">−500.0</text>
<text class="ax" x="1210" y="588.3">−1,000.0</text>
<text class="ax" x="1210" y="618.7">−1,500</text>
<text class="ax" x="1210" y="649.1">−2,000</text>
<text class="ax" x="1216.8" y="679.5">2,500</text>
<text class="ax" x="1210" y="709.9">−3,000</text>
<text class="ax" x="1210" y="751.6">60.00</text>
<text class="ax" x="1210" y="787">40.00</text>
<rect x="1201" y="0" width="66" height="33" fill="#fff"/>
<rect x="1205.5" y="3.5" width="57" height="25" rx="3.5" fill="#fff" stroke="#eaeaea"/>
<text x="1209.5" y="20.2" font-size="13" fill="#131722" textLength="17.6" lengthAdjust="spacingAndGlyphs">ILA</text>
<path d="M1253.4 15.4 L1255.6 17.4 L1257.8 15.4" fill="none" stroke="#131722" stroke-width="1.3" stroke-linecap="round" stroke-linejoin="round"/>
<path d="M1166 254 H1201 V271 H1166 a2 2 0 0 1 -2 -2 V256 a2 2 0 0 1 2 -2 z" fill="#089981"/>
<text x="1168.4" y="266.9" font-size="12" font-weight="bold" fill="#fff" textLength="28.4" lengthAdjust="spacingAndGlyphs">ARAN</text>
<rect x="1202" y="254" width="49" height="31" rx="2" fill="#089981"/>
<text x="1210" y="266.4" font-size="12" font-weight="bold" fill="#fff" textLength="29.3" lengthAdjust="spacingAndGlyphs">4,300</text>
<text x="1210" y="279.9" font-size="12" font-weight="bold" fill="#fff" fill-opacity="0.8" textLength="35.9" lengthAdjust="spacingAndGlyphs">22d 3h</text>
<rect x="1202" y="674" width="52" height="17" rx="2" fill="#26a69a"/>
<text x="1210.4" y="686.9" font-size="12" font-weight="bold" fill="#fff" textLength="38.5" lengthAdjust="spacingAndGlyphs">21.65 K</text>
<rect x="1202" y="727" width="43" height="17" rx="2" fill="#fdd835"/>
<text x="1210.4" y="739.6" font-size="12" fill="#131722" textLength="28.9" lengthAdjust="spacingAndGlyphs">66.79</text>
<text class="yr" x="40.9" y="827.3" textLength="26.6" lengthAdjust="spacingAndGlyphs">2013</text>
<text class="yr" x="99.9" y="827.3" textLength="26.6" lengthAdjust="spacingAndGlyphs">2014</text>
<text class="yr" x="157.9" y="827.3" textLength="26.6" lengthAdjust="spacingAndGlyphs">2015</text>
<text class="yr" x="216.9" y="827.3" textLength="26.6" lengthAdjust="spacingAndGlyphs">2016</text>
<text class="yr" x="275.9" y="827.3" textLength="26.6" lengthAdjust="spacingAndGlyphs">2017</text>
<text class="yr" x="333.9" y="827.3" textLength="26.6" lengthAdjust="spacingAndGlyphs">2018</text>
<text class="yr" x="392.9" y="827.3" textLength="26.6" lengthAdjust="spacingAndGlyphs">2019</text>
<text class="yr" x="451.9" y="827.3" textLength="26.6" lengthAdjust="spacingAndGlyphs">2020</text>
<text class="yr" x="510.9" y="827.3" textLength="26.6" lengthAdjust="spacingAndGlyphs">2021</text>
<text class="yr" x="568.9" y="827.3" textLength="26.6" lengthAdjust="spacingAndGlyphs">2022</text>
<text class="yr" x="627.9" y="827.3" textLength="26.6" lengthAdjust="spacingAndGlyphs">2023</text>
<text class="yr" x="686.9" y="827.3" textLength="26.6" lengthAdjust="spacingAndGlyphs">2024</text>
<text class="yr" x="744.9" y="827.3" textLength="26.6" lengthAdjust="spacingAndGlyphs">2025</text>
<text class="yr" x="803.9" y="827.3" textLength="26.6" lengthAdjust="spacingAndGlyphs">2026</text>
<text class="yr" x="862.9" y="827.3" textLength="26.6" lengthAdjust="spacingAndGlyphs">2027</text>
<text class="yr" x="920.9" y="827.3" textLength="26.6" lengthAdjust="spacingAndGlyphs">2028</text>
<text class="yr" x="979.9" y="827.3" textLength="26.6" lengthAdjust="spacingAndGlyphs">2029</text>
<text class="yr" x="1038.9" y="827.3" textLength="26.6" lengthAdjust="spacingAndGlyphs">2030</text>
<text class="yr" x="1097.9" y="827.3" textLength="26.6" lengthAdjust="spacingAndGlyphs">2031</text>
<text class="yr" x="1155.9" y="827.3" textLength="26.6" lengthAdjust="spacingAndGlyphs">2032</text>
<polygon fill="none" stroke="#131722" stroke-width="1.2" stroke-linejoin="round" points="1227.3,823.4 1230.4,817.4 1238.5,817.4 1241.9,823.4 1238.5,829.4 1230.4,829.4"/>
<circle cx="1234.4" cy="823.4" r="1.9" fill="none" stroke="#131722" stroke-width="1.2"/>
<rect x="4" y="837" width="1263" height="1" fill="#e6e6e6" shape-rendering="crispEdges"/>
<rect x="10" y="840" width="42" height="34" rx="6" fill="#ececec"/>
<text class="tb" x="30.9" y="862.4" textLength="32.7" lengthAdjust="spacingAndGlyphs">התאם</text>
<rect x="58" y="846" width="1" height="22" fill="#e6e6e6" shape-rendering="crispEdges"/>
<text x="69.1" y="862.4" font-size="14" fill="#131722" textLength="98.8" lengthAdjust="spacingAndGlyphs">UTC+2 14:26:45</text>
<rect x="856" y="846" width="1" height="22" fill="#e6e6e6" shape-rendering="crispEdges"/>
<text class="tb" x="878.0" y="862.5" textLength="20.4" lengthAdjust="spacingAndGlyphs">הכל</text>
<text class="tb" x="913.8" y="862.5" textLength="25.5" lengthAdjust="spacingAndGlyphs">שנים</text>
<text class="tb" x="934.9" y="862.5">5</text>
<text class="tb" x="962.5" y="862.5" textLength="22.3" lengthAdjust="spacingAndGlyphs">שנה</text>
<text class="tb" x="997.9" y="862.5" textLength="23.8" lengthAdjust="spacingAndGlyphs">YTD</text>
<text class="tb" x="1043.1" y="862.5" textLength="39.8" lengthAdjust="spacingAndGlyphs">חודשים</text>
<text class="tb" x="1070.8" y="862.5">6</text>
<text class="tb" x="1107.2" y="862.5" textLength="39.5" lengthAdjust="spacingAndGlyphs">חודשים</text>
<text class="tb" x="1134.9" y="862.5">3</text>
<text class="tb" x="1165.0" y="862.5" textLength="27.1" lengthAdjust="spacingAndGlyphs">חודש</text>
<text class="tb" x="1198.8" y="862.5" textLength="13.9" lengthAdjust="spacingAndGlyphs">יום</text>
<text class="tb" x="1214.8" y="862.5">5</text>
<text class="tb" x="1233.8" y="862.5">1</text>
<text class="tb" x="1244.0" y="862.5" textLength="15.0" lengthAdjust="spacingAndGlyphs">יום</text>
<g fill="none" stroke="#131722" stroke-width="1.2" stroke-linecap="round" stroke-linejoin="round">
<path d="M824.5 855.6 V851.4 a2 2 0 0 1 2 -2 H839.4 a2 2 0 0 1 2 2 V862.4 a2 2 0 0 1 -2 2 H833.3"/>
<path d="M824.5 853.4 H841.4"/>
<path d="M829.5 847.1 V850.7 M836.5 847.1 V850.7"/>
<path d="M823.2 861.4 H830.4 M827.3 858.2 L830.7 861.4 L827.3 864.6"/>
</g>
<circle cx="22" cy="15" r="9" fill="#0454a4"/>
<g fill="none" stroke="#fff" stroke-width="0.65" stroke-linejoin="round" stroke-linecap="round" stroke-opacity="0.9">
<path d="M15.2 17.8 L18.6 12.4 M16.3 16.4 H18.5 M19.0 12.3 L18.4 17.8"/>
<path d="M19.0 12.3 H21.2 C22.8 12.3 22.6 14.9 21 14.9 H18.8 M20.6 14.9 L21.6 17.8"/>
<path d="M21.9 17.8 L23.8 12.3 L25.2 17.8 M22.6 16.3 H24.8"/>
<path d="M26.0 17.8 L26.3 12.3 L27.6 17.8 L27.9 12.3"/>
</g>
<text class="t16" text-anchor="middle" x="53.6" y="20.9" textLength="38.0" lengthAdjust="spacingAndGlyphs">ARAN</text>
<circle cx="78.7" cy="16.0" r="1.2" fill="#131722"/>
<text class="h13" text-anchor="middle" x="95.8" y="20.9" textLength="19.6" lengthAdjust="spacingAndGlyphs">ארן</text>
<circle cx="114.3" cy="16.0" r="1.2" fill="#131722"/>
<text class="h13" text-anchor="middle" x="136.6" y="20.9" textLength="30.9" lengthAdjust="spacingAndGlyphs">חודש</text>
<text class="t16" text-anchor="middle" x="156.9" y="20.9">1</text>
<circle cx="167.9" cy="16.0" r="1.2" fill="#131722"/>
<text class="t16" text-anchor="middle" x="190.7" y="20.9" textLength="32.6" lengthAdjust="spacingAndGlyphs">TASE</text>
<path d="M224 6 H235 V24 H224 a9 9 0 0 1 0 -18 z" fill="#dcf1ed"/>
<path d="M235 6 H246 a9 9 0 0 1 0 18 H235 z" fill="#feebd2"/>
<circle cx="225.8" cy="15.2" r="3.9" fill="#089981"/>
<text x="244.4" y="20.1" font-size="13" font-weight="bold" fill="#f57c00" text-anchor="middle" textLength="7.9" lengthAdjust="spacingAndGlyphs">D</text>
<text class="v13" text-anchor="middle" x="303.4" y="20.0" textLength="79.5" lengthAdjust="spacingAndGlyphs">+146 (+3.51%)</text>
<text class="v13" text-anchor="middle" x="366.1" y="20.0" textLength="32.2" lengthAdjust="spacingAndGlyphs">4,300</text>
<text class="h11" text-anchor="middle" x="385.7" y="20.0">ס</text>
<text class="v13" text-anchor="middle" x="412.1" y="20.0" textLength="30.9" lengthAdjust="spacingAndGlyphs">3,987</text>
<text class="h11" text-anchor="middle" x="430.4" y="20.0">נ</text>
<text class="v13" text-anchor="middle" x="455.6" y="20.0" textLength="31.3" lengthAdjust="spacingAndGlyphs">4,580</text>
<text class="h11" text-anchor="middle" x="474.5" y="20.0">ג</text>
<text class="v13" text-anchor="middle" x="499.9" y="20.0" textLength="31.7" lengthAdjust="spacingAndGlyphs">4,103</text>
<text class="h11" text-anchor="middle" x="519.6" y="20.0">פ</text>
<rect x="13.5" y="30.5" width="31" height="20" rx="3.5" fill="#fff" stroke="#dedede"/>
<path d="M19.7 38.5 L23.6 42.1 L27.5 38.5" fill="none" stroke="#131722" stroke-width="1.2" stroke-linecap="round" stroke-linejoin="round"/>
<text x="33.4" y="45" font-size="12" fill="#131722">4</text>
<rect x="13.5" y="728.5" width="27.5" height="19.5" rx="4" fill="#fff" fill-opacity="0.88" stroke="#d4d4d4"/>
<path d="M23.4 736.6 L27.4 740.3 L31.4 736.6" fill="none" stroke="#131722" stroke-width="1.6" stroke-linecap="round" stroke-linejoin="round"/>
<circle cx="66.9" cy="738.9" r="8.8" fill="#dcd3fb"/>
<path d="M61.83 737.05 A5.4 5.4 0 0 1 72.04 737.23" fill="none" stroke="#6a3df0" stroke-width="1.9"/>
<path d="M74.42 736.16 L69.53 737.94 L73.00 739.87 z" fill="#6a3df0"/>
<path d="M71.97 740.75 A5.4 5.4 0 0 1 61.76 740.57" fill="none" stroke="#6a3df0" stroke-width="1.9"/>
<path d="M59.38 741.64 L64.27 739.86 L60.80 737.93 z" fill="#6a3df0"/>
<g stroke="#fff" stroke-width="4" stroke-linejoin="round" paint-order="stroke" fill="#111318">
<path d="M15.8 780.2 H27.8 V794.4 H21.7 V785.4 H15.8 z"/>
<circle cx="33.2" cy="783" r="2.7"/>
<path d="M38.5 780.2 H45.6 L39.9 794.4 H32.8 z"/>
<text x="53.1" y="794.4" font-size="19.6" font-weight="bold" textLength="120.6" lengthAdjust="spacingAndGlyphs" style="paint-order:stroke">TradingView</text>
</g>
<rect x="0" y="0" width="3" height="874" fill="#ebebeb"/>
<rect x="3" y="0" width="1" height="874" fill="#f3f3f3"/>
<rect x="1267" y="0" width="3" height="874" fill="#ebebeb"/>
</svg></body></html>
